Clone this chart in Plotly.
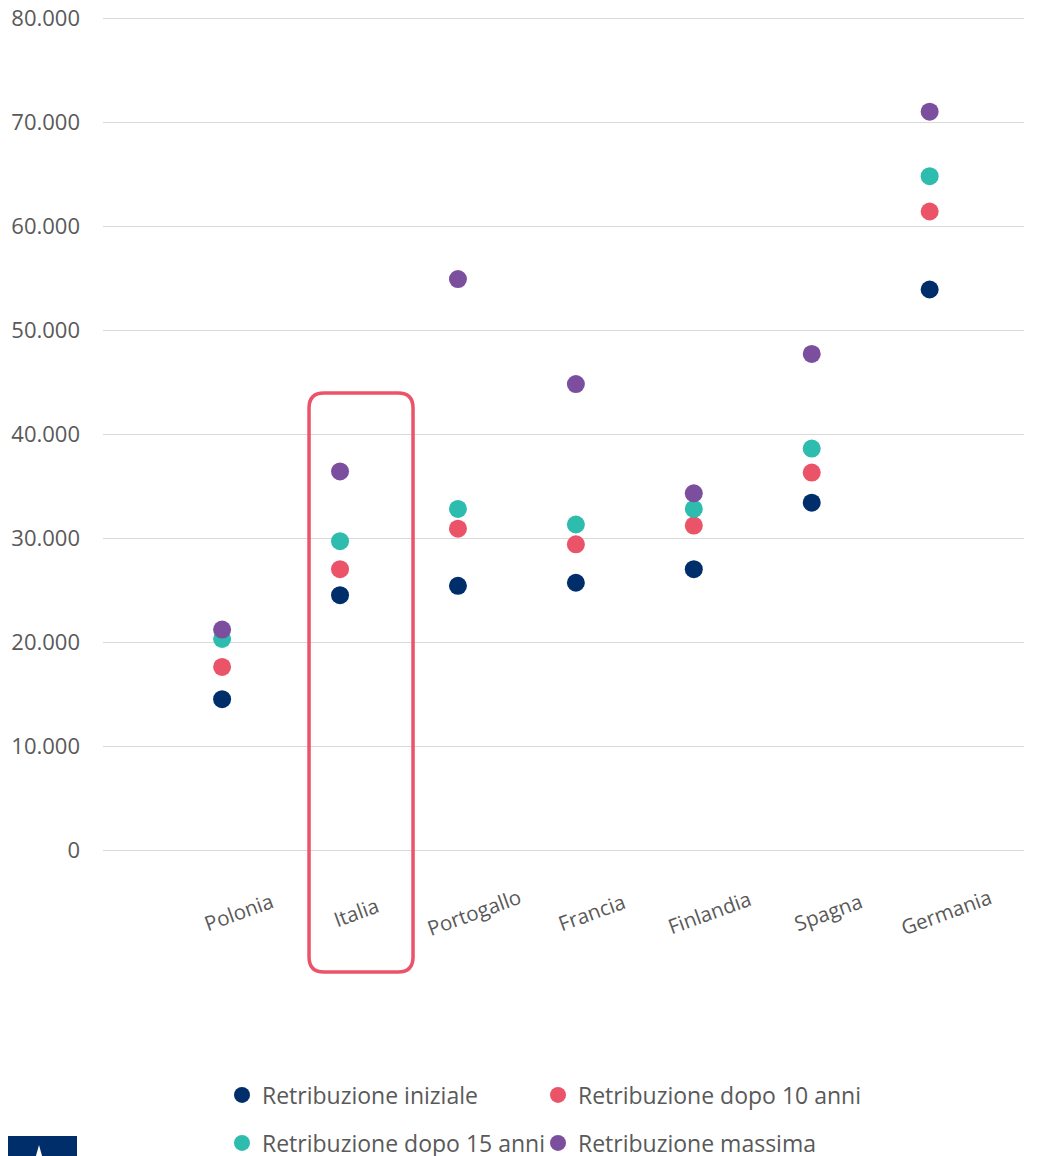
import plotly.graph_objects as go

# ---------------- data ----------------
countries = ["Polonia", "Italia", "Portogallo", "Francia", "Finlandia", "Spagna", "Germania"]
retr_iniziale = [14500, 24500, 25400, 25700, 27000, 33400, 53900]
retr_10_anni = [17600, 27000, 30900, 29400, 31200, 36300, 61400]
retr_15_anni = [20300, 29700, 32800, 31300, 32800, 38600, 64800]
retr_massima = [21200, 36400, 54900, 44800, 34300, 47700, 71000]
series_names = ["Retribuzione iniziale", "Retribuzione dopo 10 anni",
                "Retribuzione dopo 15 anni", "Retribuzione massima"]
y_ticks = [0, 10000, 20000, 30000, 40000, 50000, 60000, 70000, 80000]
highlight = "Italia"

# ---------------- styling ----------------
OFF = 8  # page body margin of the browser
YMAX = 80200  # a little headroom so the 80.000 gridline is drawn
W, H = 1038 - OFF, 1156 - OFF
MB, MR = 306, 14
ML = 103 - OFF
MT = 8
PW, PH = W - ML - MR, H - MT - MB
FONT = "Open Sans"
GREY = "#595959"
colors = ["#002E6B", "#EB5468", "#2EBCAE", "#7B4F9E"]
XMIN, XMAX = -1.01, 6.8


def px_x(px):
    """reference-picture x pixel -> paper fraction"""
    return (px - OFF - ML) / PW


def px_y(py):
    """reference-picture y pixel -> paper fraction"""
    return (MT + PH - (py - OFF)) / PH


fig = go.Figure()
all_series = [retr_iniziale, retr_10_anni, retr_15_anni, retr_massima]
legend_ids = ["legend", "legend2", "legend3", "legend4"]
legend_pos = [(222, 1095), (538, 1095), (222, 1143), (538, 1143)]
for name, vals, col, lg in zip(series_names, all_series, colors, legend_ids):
    fig.add_trace(go.Scatter(
        x=list(range(len(countries))), y=vals, mode="markers", name=name,
        marker=dict(size=18, color=col, line=dict(width=0)),
        legend=lg,
    ))

# category labels (centred, rotated)
for i, c in enumerate(countries):
    fig.add_annotation(
        x=i, xref="x", y=px_y(912), yref="paper", text=c, showarrow=False,
        textangle=-20, xshift=16, font=dict(family=FONT, size=20.5, color=GREY),
        xanchor="center", yanchor="middle",
    )

# highlight box around Italia (rounded rectangle, in pixels around the category)
hi = countries.index(highlight)
cx = OFF + ML + (hi - XMIN) / (XMAX - XMIN) * PW
x0, x1 = cx - 31, cx + 73
y0, y1 = 393, 972
r = 15
rx, ry = r / PW, r / PH
X0, X1, Y0, Y1 = px_x(x0), px_x(x1), px_y(y1), px_y(y0)
path = (f"M {X0+rx},{Y1} L {X1-rx},{Y1} Q {X1},{Y1} {X1},{Y1-ry} "
        f"L {X1},{Y0+ry} Q {X1},{Y0} {X1-rx},{Y0} L {X0+rx},{Y0} "
        f"Q {X0},{Y0} {X0},{Y0+ry} L {X0},{Y1-ry} Q {X0},{Y1} {X0+rx},{Y1} Z")
fig.add_shape(type="path", path=path, xref="paper", yref="paper",
              line=dict(color="#EB5468", width=3.5), fillcolor="rgba(0,0,0,0)")

# logo fragment bottom-left
fig.add_shape(type="rect", xref="paper", yref="paper",
              x0=px_x(2), x1=px_x(77), y0=px_y(1170), y1=px_y(1136),
              fillcolor="#002E6B", line=dict(width=0))
fig.add_shape(type="path", xref="paper", yref="paper",
              path=f"M {px_x(39)},{px_y(1145)} L {px_x(46)},{px_y(1170)} L {px_x(32)},{px_y(1170)} Z",
              fillcolor="white", line=dict(width=0))

legend_common = dict(orientation="h", xanchor="left", yanchor="middle",
                     font=dict(family=FONT, size=23, color=GREY),
                     itemwidth=30, bgcolor="rgba(0,0,0,0)")
legends = {lg: dict(x=px_x(lx), y=px_y(ly), **legend_common)
           for lg, (lx, ly) in zip(legend_ids, legend_pos)}

fig.update_layout(
    width=W, height=H,
    margin=dict(l=ML, r=MR, t=MT, b=MB, autoexpand=False),
    paper_bgcolor="white", plot_bgcolor="white",
    separators=",.",
    font=dict(family=FONT, size=18, color=GREY),
    showlegend=True,
    **legends,
    xaxis=dict(range=[XMIN, XMAX], showgrid=False, zeroline=False, showline=False,
               showticklabels=False, ticks=""),
    yaxis=dict(range=[0, YMAX], tickvals=y_ticks, tickformat=",d", showgrid=True,
               gridcolor="#D9D9D9", gridwidth=1, zeroline=True, zerolinecolor="#D9D9D9",
               zerolinewidth=1, showline=False, ticks="", ticklabelstandoff=22,
               ticklabeloverflow="allow",
               tickfont=dict(family=FONT, size=22, color=GREY)),
)

fig.write_html("out.html")
